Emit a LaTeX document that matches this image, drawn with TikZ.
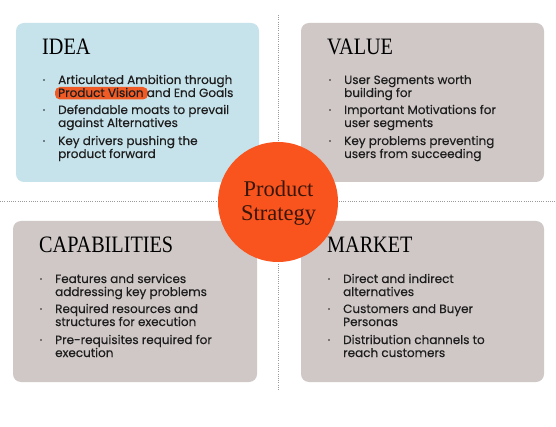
\documentclass[tikz,border=0pt]{standalone}
\usepackage{fontspec}
\setmainfont{Liberation Serif}
\newfontfamily\headfont[FakeStretch=0.86]{Liberation Serif}
\newfontfamily\bodyfont[FakeBold=0.3]{Poppins}
\definecolor{ideabg}{HTML}{C6E2EB}
\definecolor{greybg}{HTML}{CFC8C7}
\definecolor{stratorange}{HTML}{F9541D}
\definecolor{hl}{HTML}{F05A24}
\definecolor{txt}{HTML}{1E1E1E}
\definecolor{circtxt}{HTML}{3A160A}
\definecolor{dotline}{HTML}{9A9A9A}
\tikzset{
  panel/.style={rounded corners=8pt, draw=none},
  heading/.style={anchor=base west, inner sep=0pt, font=\headfont\fontsize{23.5}{26}\selectfont, text=black},
  itemline/.style={anchor=base west, inner sep=0pt, font=\bodyfont\fontsize{12}{13}\selectfont, text=txt},
  bulletdot/.style={circle, fill=txt, inner sep=0pt, minimum size=1.8pt},
  divider/.style={draw=dotline, line width=0.8pt, dash pattern=on 1pt off 1.2pt},
  circtext/.style={anchor=base, inner sep=0pt, font=\fontsize{22.5}{24}\selectfont, text=circtxt},
}
% \listitem{name}{bullet x}{text x}{baseline y}{line 1}{line 2}
\newcommand{\listitem}[6]{%
  \node[bulletdot] (#1dot) at (#2,#4-4) {};
  \node[itemline] (#1a) at (#3,#4) {#5};
  \node[itemline] (#1b) at (#3,#4+13) {#6};
}
\begin{document}
\begin{tikzpicture}[x=1pt,y=-1pt]
\useasboundingbox (0,0) rectangle (556,427);
\fill[white] (0,0) rectangle (556,427);
% dividers
\coordinate (vtop) at (278,15);
\coordinate (vbot) at (278,390);
\coordinate (hl) at (0,201);
\coordinate (hr) at (556,201);
\draw[divider] (vtop) -- (vbot);
\draw[divider] (hl) -- (hr);
% panels
\fill[panel, ideabg] (16,23) rectangle (259,182);
\fill[panel, greybg] (301,23) rectangle (544,182);
\fill[panel, greybg] (13,221) rectangle (257,382);
\fill[panel, greybg] (301,221) rectangle (544,382);
% highlight
\fill[hl, rounded corners=5pt] (55,87) rectangle (148,99.5);
% headings
\node[heading] (hidea) at (42,55) {IDEA};
\node[heading] (hvalue) at (327,55) {VALUE};
\node[heading] (hcap) at (39,253) {CAPABILITIES};
\node[heading] (hmarket) at (327,253) {MARKET};
% IDEA
\listitem{ia}{44}{58}{84}{Articulated Ambition through}{Product Vision and End Goals}
\listitem{ib}{44}{58}{114}{Defendable moats to prevail}{against Alternatives}
\listitem{ic}{44}{58}{145}{Key drivers pushing the}{product forward}
% VALUE
\listitem{va}{330}{344}{84}{User Segments worth}{building for}
\listitem{vb}{330}{344}{114}{Important Motivations for}{user segments}
\listitem{vc}{330}{344}{145}{Key problems preventing}{users from succeeding}
% CAPABILITIES
\listitem{ca}{41}{55}{283}{Features and services}{addressing key problems}
\listitem{cb}{41}{55}{313}{Required resources and}{structures for execution}
\listitem{cc}{41}{55}{344}{Pre-requisites required for}{execution}
% MARKET
\listitem{ma}{329}{343}{283}{Direct and indirect}{alternatives}
\listitem{mb}{329}{343}{313}{Customers and Buyer}{Personas}
\listitem{mc}{329}{343}{344}{Distribution channels to}{reach customers}
% circle
\node[circle, fill=stratorange, minimum size=120pt, inner sep=0pt] (strategy) at (278,202) {};
\node[circtext] (strat1) at (278.5,197) {Product};
\node[circtext] (strat2) at (278.5,221) {Strategy};
\end{tikzpicture}
\end{document}
